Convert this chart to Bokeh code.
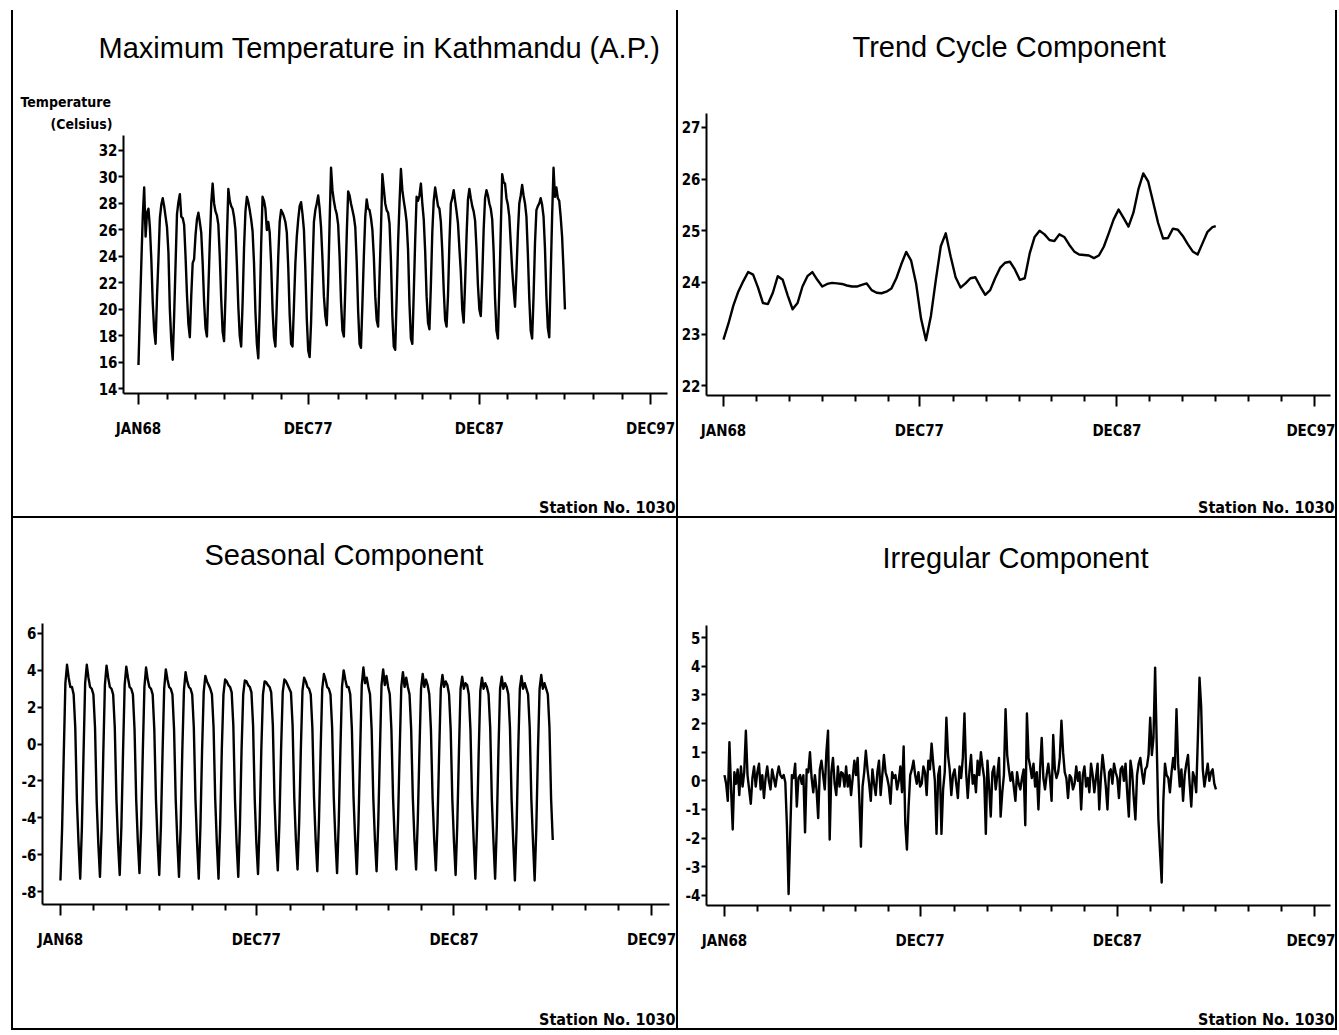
from bokeh.plotting import figure
from bokeh.models import FixedTicker, Range1d, Row, Column, Title
from bokeh.embed import file_html
from bokeh.resources import INLINE

# ---------------- data (monthly, JAN68 = 0 ... DEC92 = 299) ----------------
months = list(range(300))

max_temp = [
    15.8, 19.8, 23.5, 27.0, 29.2, 25.5, 27.3, 27.6, 26.2, 23.8, 20.5, 18.4,   # 1968
    17.4, 21.0, 23.8, 26.9, 27.9, 28.4, 27.8, 27.0, 26.2, 24.3, 20.0, 17.6,   # 1969
    16.2, 19.5, 23.4, 27.2, 28.1, 28.7, 27.0, 26.9, 26.4, 24.0, 21.1, 18.9,   # 1970
    17.9, 21.0, 23.5, 23.8, 25.6, 26.8, 27.3, 26.6, 25.8, 23.5, 20.6, 18.6,   # 1971
    17.95, 21.5, 25.0, 28.0, 29.5, 28.0, 27.4, 27.1, 26.4, 24.0, 20.8, 18.3,  # 1972
    17.6, 21.0, 25.4, 29.1, 28.2, 27.8, 27.6, 27.0, 26.0, 23.4, 20.2, 18.0,   # 1973
    17.2, 20.5, 24.6, 27.4, 28.5, 28.1, 27.5, 26.8, 25.9, 23.5, 19.8, 17.4,   # 1974
    16.3, 20.0, 24.8, 28.5, 28.2, 27.6, 26.0, 26.6, 25.8, 23.5, 20.0, 17.9,   # 1975
    17.2, 20.5, 24.0, 26.6, 27.5, 27.3, 27.0, 26.6, 25.8, 23.2, 19.6, 17.4,   # 1976
    17.2, 20.3, 23.5, 25.5, 26.8, 27.8, 28.1, 27.2, 26.0, 23.0, 19.3, 16.9,   # 1977
    16.4, 19.0, 23.0, 26.6, 27.5, 28.0, 28.6, 27.6, 26.2, 23.8, 21.0, 19.5,   # 1978
    18.8, 22.0, 26.5, 30.7, 29.0, 28.2, 27.6, 27.2, 26.4, 24.0, 20.6, 18.4,   # 1979
    17.95, 21.6, 25.6, 28.9, 28.6, 28.0, 27.5, 27.0, 26.2, 23.6, 19.9, 17.4,  # 1980
    17.1, 20.4, 24.0, 27.0, 28.3, 27.6, 27.5, 26.9, 26.0, 24.0, 21.0, 19.2,   # 1981
    18.7, 22.5, 26.0, 30.2, 29.1, 28.0, 27.5, 27.3, 26.5, 23.7, 19.5, 17.2,   # 1982
    16.95, 20.8, 25.0, 28.0, 30.6, 29.0, 28.2, 27.5, 26.6, 24.5, 20.4, 17.8,  # 1983
    17.4, 21.2, 25.2, 28.5, 28.2, 28.6, 29.5, 28.0, 26.8, 24.4, 21.0, 19.0,   # 1984
    18.5, 21.8, 25.8, 28.2, 29.2, 28.5, 27.8, 27.6, 26.6, 24.4, 21.5, 19.2,   # 1985
    18.7, 21.0, 25.0, 28.0, 28.4, 29.0, 28.2, 27.4, 26.5, 24.6, 22.8, 20.0,   # 1986
    19.0, 22.0, 25.5, 28.3, 29.1, 28.4, 27.8, 27.4, 26.7, 24.6, 21.8, 20.0,   # 1987
    19.5, 22.4, 26.0, 28.4, 29.0, 28.6, 28.0, 27.6, 26.8, 24.4, 20.8, 18.4,   # 1988
    17.8, 21.6, 26.0, 30.2, 29.6, 29.5, 28.4, 27.9, 27.0, 25.0, 23.0, 21.5,   # 1989
    20.2, 22.8, 25.8, 28.0, 28.6, 29.4, 28.6, 28.0, 27.0, 24.2, 20.8, 18.4,   # 1990
    17.8, 21.0, 25.0, 27.5, 27.8, 28.0, 28.4, 27.9, 27.0, 24.6, 21.0, 18.6,   # 1991
    17.9, 22.5, 27.0, 30.7, 28.5, 29.2, 28.4, 28.2, 27.0, 25.5, 23.0, 20.0,   # 1992
]

trend_months = list(range(0, 300, 3)) + [299]
trend_cycle = [
    22.89, 23.2, 23.55, 23.82, 24.02, 24.2, 24.15, 23.9, 23.6, 23.58,
    23.8, 24.12, 24.05, 23.75, 23.48, 23.6, 23.92, 24.12, 24.2, 24.05,
    23.92, 23.97, 23.99, 23.98, 23.97, 23.94, 23.92, 23.92, 23.95, 23.98,
    23.85, 23.8, 23.79, 23.82, 23.88, 24.08, 24.35, 24.59, 24.42, 23.98,
    23.3, 22.88, 23.35, 24.05, 24.7, 24.95, 24.5, 24.1, 23.9, 23.98,
    24.08, 24.1, 23.92, 23.76, 23.85, 24.08, 24.28, 24.38, 24.4, 24.25,
    24.05, 24.08, 24.56, 24.88, 25.0, 24.93, 24.82, 24.8, 24.93, 24.88,
    24.73, 24.6, 24.54, 24.53, 24.52, 24.47, 24.52, 24.69, 24.95, 25.22,
    25.41, 25.25, 25.08, 25.35, 25.8, 26.11, 25.95, 25.55, 25.15, 24.85,
    24.86, 25.04, 25.02, 24.9, 24.74, 24.6, 24.54, 24.76, 24.98, 25.07,
    25.09,
]

seasonal = [
    -7.4, -4.6, -0.6, 3.3, 4.3, 3.6, 3.1, 3.1, 2.7, 0.9, -3.1, -5.4,     # 1968
    -7.3, -4.6, -0.6, 3.3, 4.3, 3.6, 3.1, 3.0, 2.7, 0.9, -3.1, -5.4,     # 1969
    -7.2, -4.6, -0.6, 3.2, 4.25, 3.6, 3.1, 3.0, 2.7, 0.9, -3.0, -5.4,    # 1970
    -7.1, -4.5, -0.5, 3.2, 4.2, 3.6, 3.1, 3.0, 2.7, 0.8, -3.0, -5.3,     # 1971
    -7.0, -4.5, -0.5, 3.1, 4.15, 3.5, 3.1, 3.0, 2.7, 0.8, -3.0, -5.3,    # 1972
    -7.1, -4.5, -0.5, 3.0, 4.05, 3.5, 3.1, 3.0, 2.7, 0.8, -3.0, -5.3,    # 1973
    -7.2, -4.5, -0.4, 2.9, 3.9, 3.4, 3.1, 3.0, 2.7, 0.9, -3.0, -5.4,     # 1974
    -7.3, -4.5, -0.4, 2.8, 3.7, 3.4, 3.2, 3.0, 2.7, 0.9, -3.0, -5.4,     # 1975
    -7.3, -4.4, -0.3, 2.7, 3.5, 3.4, 3.2, 3.1, 2.8, 1.0, -3.0, -5.4,     # 1976
    -7.2, -4.4, -0.3, 2.7, 3.45, 3.4, 3.2, 3.1, 2.8, 1.0, -3.0, -5.4,    # 1977
    -7.05, -4.3, -0.3, 2.7, 3.4, 3.35, 3.2, 3.1, 2.8, 1.0, -3.0, -5.3,   # 1978
    -6.85, -4.2, -0.3, 2.8, 3.5, 3.4, 3.2, 3.0, 2.8, 1.0, -2.9, -5.2,    # 1979
    -6.8, -4.2, -0.3, 2.9, 3.6, 3.4, 3.1, 3.0, 2.7, 0.9, -2.9, -5.2,     # 1980
    -6.9, -4.2, -0.4, 3.0, 3.8, 3.5, 3.1, 3.0, 2.7, 0.9, -2.9, -5.2,     # 1981
    -7.0, -4.3, -0.4, 3.1, 4.0, 3.5, 3.1, 3.1, 2.7, 0.8, -2.9, -5.2,     # 1982
    -7.05, -4.3, -0.5, 3.2, 4.15, 3.3, 3.6, 3.1, 2.7, 0.8, -2.9, -5.2,   # 1983
    -6.9, -4.3, -0.5, 3.2, 4.05, 3.2, 3.7, 3.1, 2.7, 0.8, -2.9, -5.2,    # 1984
    -6.8, -4.2, -0.5, 3.1, 3.9, 3.1, 3.6, 3.1, 2.7, 0.8, -2.9, -5.2,     # 1985
    -6.8, -4.2, -0.5, 3.0, 3.8, 3.1, 3.5, 3.2, 2.7, 0.8, -2.9, -5.2,     # 1986
    -6.85, -4.3, -0.5, 3.0, 3.75, 3.1, 3.4, 3.2, 2.7, 0.8, -3.0, -5.3,   # 1987
    -7.1, -4.4, -0.5, 3.0, 3.65, 3.0, 3.3, 3.2, 2.7, 0.8, -3.0, -5.3,    # 1988
    -7.3, -4.5, -0.5, 2.9, 3.6, 3.0, 3.3, 3.1, 2.7, 0.9, -3.0, -5.3,     # 1989
    -7.3, -4.5, -0.4, 3.0, 3.65, 3.0, 3.3, 3.1, 2.7, 0.9, -3.0, -5.3,    # 1990
    -7.4, -4.6, -0.4, 3.0, 3.7, 3.0, 3.3, 3.0, 2.7, 0.9, -3.0, -5.3,     # 1991
    -7.4, -4.6, -0.4, 3.0, 3.75, 3.0, 3.3, 3.0, 2.7, 0.9, -3.0, -5.2,    # 1992
]

irregular = [
    0.2, -0.1, -0.7, 1.35, -0.3, -1.7, 0.3, -0.1, 0.4, -0.5, 0.5, -0.2,      # 1968
    0.3, 1.75, 0.2, -0.3, -0.8, 0.1, 0.5, -0.2, 0.3, 0.6, -0.3, 0.2,         # 1969
    -0.6, 0.1, 0.5, 0.0, -0.3, 0.4, 0.1, -0.2, 0.2, 0.5, 0.2, 0.1,           # 1970
    0.2, -0.05, -1.6, -3.95, -1.8, 0.2, 0.1, 0.6, -0.9, 0.1, 0.2, -0.1,      # 1971
    0.2, -1.8, 0.4, 0.3, 1.0, 0.1, -0.4, 0.2, -0.3, -1.3, 0.4, 0.7,          # 1972
    0.2, -0.3, 1.0, 1.75, -2.05, 0.3, 0.8, -0.1, -0.5, 0.5, -0.2, 0.3,       # 1973
    0.26, -0.2, 0.5, -0.2, 0.2, -0.5, 0.1, 0.7, 0.2, 0.8, -0.6, -2.3,        # 1974
    -0.2, 0.3, 1.05, 0.4, -0.1, -0.7, 0.4, -0.1, -0.5, 0.3, 0.7, -0.5,       # 1975
    0.2, 0.9, 0.3, 0.1, -0.2, -0.8, 0.3, 0.1, 0.2, -0.3, 0.0, 0.5,           # 1976
    -0.4, 1.2, -1.5, -2.4, -0.9, 0.2, 0.4, 0.7, 0.2, -0.1, 0.3, -0.2,        # 1977
    -0.1, 0.5, 0.3, -0.5, 0.7, 0.4, 1.3, 0.6, 0.0, -1.85, 0.2, 0.5,          # 1978
    -1.85, -0.3, 0.3, 2.2, 0.9, 0.4, -0.5, 0.2, 0.4, -0.1, -0.6, 0.5,        # 1979
    0.1, 0.8, 2.35, 0.3, -0.6, 0.3, 0.9, -0.1, 0.2, -0.4, 0.7, 0.2,          # 1980
    1.0, 0.5, 0.1, -1.85, 0.7, -0.2, -1.25, 0.3, 0.5, -0.3, 0.2, 0.8,        # 1981
    -1.25, -0.4, 0.2, 2.5, 0.9, 0.4, 0.0, 0.3, -0.2, -0.7, 0.3, -0.1,        # 1982
    -0.3, 0.1, 0.4, -1.55, 2.35, 0.8, 0.5, 0.1, 0.6, -0.2, 0.3, -1.0,        # 1983
    0.4, 1.5, 0.1, -0.3, 0.2, 0.6, 0.1, -0.7, 1.6, 0.4, 0.1, 0.3,            # 1984
    0.8, 2.1, 1.0, 0.3, 0.1, -0.6, 0.2, 0.1, -0.3, -0.1, 0.5, 0.0,           # 1985
    0.3, -1.0, 0.2, 0.5, -0.2, 0.1, -0.4, 0.6, 0.2, -0.4, 0.1, 0.6,          # 1986
    -1.0, 0.1, 0.9, 0.4, -0.2, -1.0, 0.3, 0.4, -0.1, 0.6, 0.3, 0.1,          # 1987
    -0.6, 0.4, 0.5, 0.0, 0.6, -0.4, -1.25, 0.7, 0.3, -0.6, -1.35, 0.2,       # 1988
    0.6, 0.8, 0.3, -0.1, 0.4, 0.5, 0.9, 2.2, 0.9, 1.5, 3.95, 1.2,            # 1989
    -1.35, -2.5, -3.55, -0.7, 0.6, 0.2, 0.1, -0.4, 0.3, 0.8, 0.4, 2.5,       # 1990
    0.6, -0.2, 0.4, -0.7, 0.2, 0.6, 0.9, -0.1, -0.9, 0.3, 0.1, -0.4,         # 1991
    1.5, 3.6, 2.6, 0.4, -0.2, 0.2, 0.6, 0.0, 0.3, 0.4, -0.1, -0.3,           # 1992
]

x_major_ticks = [0, 119, 239, 359]
x_major_labels = ["JAN68", "DEC77", "DEC87", "DEC97"]
x_minor_ticks = [20, 40, 60, 80, 100, 140, 160, 180, 199, 219, 259, 279, 299, 319, 339]

temp_ticks = [14, 16, 18, 20, 22, 24, 26, 28, 30, 32]
trend_ticks = [22, 23, 24, 25, 26, 27]
seasonal_ticks = [-8, -6, -4, -2, 0, 2, 4, 6]
irregular_ticks = [-4, -3, -2, -1, 0, 1, 2, 3, 4, 5]

titles = ["Maximum Temperature in Kathmandu (A.P.)", "Trend Cycle Component",
          "Seasonal Component", "Irregular Component"]
y_label_lines = ["Temperature", "(Celsius)"]
station_text = "Station No. 1030"

# ---------------- layout (page pixel geometry) ----------------
TITLE_FONT = "Liberation Sans"
SMALL_FONT = "DejaVu Sans Condensed, Liberation Sans, sans-serif"

panels = [
    dict(origin=(13, 10), size=(663, 506), frame=(123, 667, 135, 394),
         xr=(-10.5, 370.9), yr=(13.65, 33.13), title_offset=-25,
         top_gap=25, bottom_gap=52, station_offset=-8),
    dict(origin=(678, 10), size=(657, 506), frame=(706, 1330, 113, 396),
         xr=(-10.3, 368.7), yr=(21.81, 27.27), title_offset=146,
         top_gap=48, bottom_gap=50, station_offset=-4),
    dict(origin=(13, 518), size=(663, 510), frame=(42, 669, 623, 905),
         xr=(-10.9, 369.9), yr=(-8.70, 6.54), title_offset=162,
         top_gap=50, bottom_gap=53, station_offset=-6),
    dict(origin=(678, 518), size=(657, 510), frame=(706, 1330, 625, 906),
         xr=(-10.95, 368.7), yr=(-4.35, 5.42), title_offset=176,
         top_gap=49, bottom_gap=52, station_offset=-4),
]


def text_item(text, size, font, style="normal", align="center",
              valign="bottom", standoff=0, offset=0):
    return Title(text=text, align=align, vertical_align=valign,
                 standoff=standoff, offset=offset, text_font=font,
                 text_font_size=f"{size}px", text_font_style=style,
                 text_color="black")


def spacer(gap):
    return Title(text=" ", text_font_size="1px", standoff=gap,
                 text_color="white")


def style_axis(ax, tick_out, standoff):
    ax.major_tick_out = tick_out
    ax.major_tick_in = 0
    ax.minor_tick_in = 0
    ax.axis_line_width = 2
    ax.major_tick_line_width = 2
    ax.minor_tick_line_width = 2
    ax.major_label_standoff = standoff
    ax.major_label_text_font = SMALL_FONT
    ax.major_label_text_font_size = "15px"
    ax.major_label_text_font_style = "bold"
    ax.major_label_text_color = "black"


def make_panel(spec, title, xs, ys, yticks, extra_above=()):
    ox, oy = spec["origin"]
    W, H = spec["size"]
    L, R, T, B = spec["frame"]
    p = figure(width=W, height=H, output_backend="svg", toolbar_location=None,
               x_range=Range1d(*spec["xr"]), y_range=Range1d(*spec["yr"]),
               min_border_left=L - ox, min_border_right=ox + W - R,
               min_border_top=T - oy, min_border_bottom=oy + H - B,
               tools="", outline_line_color=None,
               background_fill_color="white", border_fill_color="white",
               styles={"background-color": "white"})
    p.xgrid.visible = False
    p.ygrid.visible = False

    p.line(xs, ys, line_color="black", line_width=2.4, line_join="round")

    xa = p.xaxis[0]
    xa.ticker = FixedTicker(ticks=x_major_ticks, minor_ticks=x_minor_ticks)
    xa.major_label_overrides = dict(zip(x_major_ticks, x_major_labels))
    style_axis(xa, 11, 15)
    xa.minor_tick_out = 6

    ya = p.yaxis[0]
    ya.ticker = FixedTicker(ticks=yticks, minor_ticks=[])
    ya.major_label_overrides = {t: str(t) for t in yticks}
    style_axis(ya, 5, 1)
    ya.minor_tick_out = 0

    # above stack: first added sits next to the frame
    for item in extra_above:
        p.add_layout(item, "above")
    p.add_layout(spacer(spec["top_gap"]), "above")
    p.add_layout(text_item(title, 29, TITLE_FONT, align="left",
                           offset=spec["title_offset"]), "above")

    # below stack: x axis, spacer, station note
    p.add_layout(spacer(spec["bottom_gap"]), "below")
    p.add_layout(text_item(station_text, 16, SMALL_FONT, style="bold",
                           align="right", offset=spec["station_offset"]),
                 "below")
    return p


p1 = make_panel(panels[0], titles[0], months, max_temp, temp_ticks,
                extra_above=[
                    text_item(y_label_lines[1], 14, SMALL_FONT, style="bold",
                              align="left", standoff=8, offset=-73),
                    text_item(y_label_lines[0], 14, SMALL_FONT, style="bold",
                              align="left", standoff=0, offset=-103),
                ])
p2 = make_panel(panels[1], titles[1], trend_months, trend_cycle, trend_ticks)
p3 = make_panel(panels[2], titles[2], months, seasonal, seasonal_ticks)
p4 = make_panel(panels[3], titles[3], months, irregular, irregular_ticks)

# each plot sits in its own wrapper so that the frames are not aligned
left_col = Column(children=[Row(children=[p1]), Row(children=[p3])], spacing=2)
right_col = Column(children=[Row(children=[p2]), Row(children=[p4])], spacing=2)
root = Row(children=[left_col, right_col], spacing=2,
           styles={"background-color": "black", "padding": "0px 2px 2px 2px",
                   "margin-left": "11px", "margin-top": "10px",
                   "width": "fit-content"})

open("out.html", "w").write(file_html(root, INLINE))
